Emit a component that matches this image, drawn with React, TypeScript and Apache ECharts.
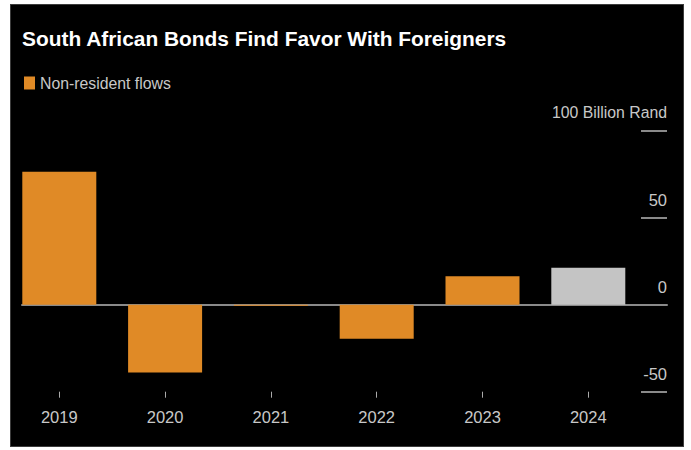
import React, { useEffect, useRef } from "react";
import * as echarts from "echarts";

const categories = ["2019", "2020", "2021", "2022", "2023", "2024"];
const flows = [76.6, -39, -0.6, -19.5, 16.4, 21.3];
const highlightIndex = 5; // 2024 drawn in grey
const yMin = -50;
const yMax = 100;
const yInterval = 50;
const unitLabel = "100 Billion Rand";
const seriesName = "Non-resident flows";
const titleText = "South African Bonds Find Favor With Foreigners";

const ORANGE = "#E08A26";
const GREY_BAR = "#C4C4C4";
const TEXT = "#C8C8C8";
const LINE = "#8A8A8A";
const FONT = "'Liberation Sans', Arial, sans-serif";

export default function App() {
  const ref = useRef<HTMLDivElement>(null);

  useEffect(() => {
    if (!ref.current) return;
    const chart = echarts.init(ref.current, null, { renderer: "svg" });
    const gridTop = 131;
    const gridBottom = 58.3;
    chart.setOption({
      animation: false,
      backgroundColor: "transparent",
      title: {
        text: titleText,
        left: 22,
        top: 28,
        padding: 0,
        textStyle: {
          color: "#FFFFFF",
          fontFamily: FONT,
          fontWeight: "bold",
          fontSize: 20.9,
        },
      },
      legend: {
        left: 24,
        top: 75,
        padding: 0,
        icon: "rect",
        itemWidth: 11,
        itemHeight: 13,
        data: [seriesName],
        textStyle: { color: TEXT, fontFamily: FONT, fontSize: 15.8 },
      },
      grid: [
        { left: 6.4, right: 49.8, top: gridTop, bottom: gridBottom },
        { left: 22, right: 24, top: gridTop, bottom: gridBottom },
      ],
      xAxis: [
        {
          gridIndex: 0,
          type: "category",
          data: categories,
          axisLine: { show: false, onZero: false },
          axisTick: {
            show: true,
            alignWithLabel: true,
            length: 6,
            lineStyle: { color: "#AAAAAA", width: 1 },
          },
          axisLabel: {
            color: TEXT,
            fontFamily: FONT,
            fontSize: 16.5,
            margin: 17,
          },
          splitLine: { show: false },
        },
        {
          gridIndex: 1,
          type: "value",
          min: 0,
          max: 1,
          axisLine: { show: true, onZero: true, lineStyle: { color: LINE, width: 2 } },
          axisTick: { show: false },
          axisLabel: { show: false },
          splitLine: { show: false },
        },
      ],
      yAxis: [
        {
          gridIndex: 0,
          type: "value",
          min: yMin,
          max: yMax,
          interval: yInterval,
          show: false,
        },
        {
          gridIndex: 1,
          type: "value",
          position: "right",
          min: yMin,
          max: yMax,
          interval: yInterval,
          axisLine: { show: false, onZero: false },
          splitLine: { show: false },
          axisTick: {
            show: true,
            inside: true,
            length: 26,
            lineStyle: { color: LINE, width: 2 },
          },
          axisLabel: {
            inside: true,
            margin: 0,
            color: TEXT,
            fontFamily: FONT,
            fontSize: 16.5,
            lineHeight: 16,
            verticalAlign: "bottom",
            padding: [0, 0, 10, 0],
            formatter: (v: number) => (v === yMax ? "{u|" + unitLabel + "}" : String(v)),
            rich: {
              u: {
                color: TEXT,
                fontFamily: FONT,
                fontSize: 15.8,
                lineHeight: 16,
                padding: [0, 0, 2, 0],
              },
            },
          },
        },
      ],
      series: [
        {
          name: seriesName,
          type: "bar",
          xAxisIndex: 0,
          yAxisIndex: 0,
          barWidth: 74,
          itemStyle: { color: ORANGE },
          data: flows.map((v, i) =>
            i === highlightIndex ? { value: v, itemStyle: { color: GREY_BAR } } : v
          ),
        },
      ],
    });
    return () => chart.dispose();
  }, []);

  return (
    <div
      style={{
        position: "fixed",
        left: 0,
        top: 0,
        width: 691,
        height: 450,
        background: "#FFFFFF",
      }}
    >
      <div
        style={{
          position: "absolute",
          left: 10,
          top: 4,
          width: 674,
          height: 443,
          boxSizing: "border-box",
          background: "#000000",
          border: "1px solid #3C3C3C",
        }}
      />
      <div
        ref={ref}
        style={{ position: "absolute", left: 0, top: 0, width: 691, height: 450 }}
      />
    </div>
  );
}
